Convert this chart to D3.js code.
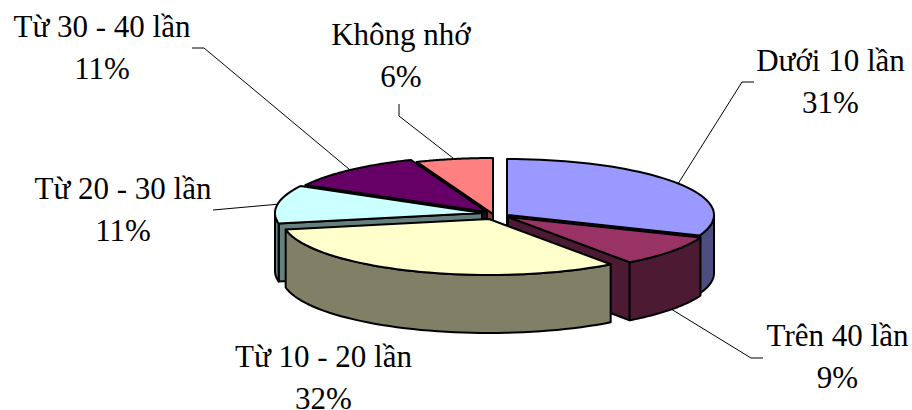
<!DOCTYPE html>
<html lang="vi">
<head>
<meta charset="utf-8">
<title>Số lần</title>
<script src="https://cdn.jsdelivr.net/npm/d3@7/dist/d3.min.js"></script>
<style>
  html, body { margin: 0; padding: 0; background: #fff; }
  svg { display: block; }
  text { font-family: "Liberation Serif", "Times New Roman", serif; fill: #000; }
</style>
</head>
<body>
<svg id="chart" width="912" height="410"></svg>
<script>
// Clockwise from twelve o'clock
const categories = ["Dưới 10 lần", "Trên 40 lần", "Từ 10 - 20 lần", "Từ 20 - 30 lần", "Từ 30 - 40 lần", "Không nhớ"];
const shares = [31, 9, 32, 11, 11, 6];
const topColors = ["#9999ff", "#993366", "#ffffcc", "#ccffff", "#660066", "#ff8080"];
const sideColors = ["#4d4d80", "#4d1a33", "#808066", "#668080", "#330033", "#804040"];

// Exploded centre of every slice
const centres = [[507, 215], [508, 217], [489, 219], [482, 213], [487, 212], [493, 214]];
// Label anchor (centre, first baseline) and the elbow of each leader line
const labelPos = [[830.5, 71], [837.5, 346], [323.5, 367], [123, 199], [102, 37], [401, 45]];
const leaderPath = [
  [[754, 82], [742, 82]],
  [[763, 358], [751, 358]],
  null,
  [[213, 210]],
  [[192, 48], [204, 48]],
  [[399, 104], [399, 116]]
];
// Painter's order, back to front
const drawOrder = [5, 4, 3, 0, 1, 2];

const RX = 207, RY = 56, DEPTH = 58;
const FONT = 31, LINE = 42;

const svg = d3.select("#chart");
const slices = d3.pie().sort(null).value(d => d)(shares);

const rim = (i, a) => [
  centres[i][0] + RX * Math.sin(a),
  centres[i][1] - RY * Math.cos(a)
];
const drop = p => [p[0], p[1] + DEPTH];
const arcPoints = (i, a0, a1) =>
  d3.range(0, 49).map(k => rim(i, a0 + (a1 - a0) * k / 48));
const line = d3.line();

const faceStyle = sel => sel
  .attr("stroke", "#000")
  .attr("stroke-width", 2)
  .attr("stroke-linejoin", "round");

const pieLayer = svg.append("g");

drawOrder.forEach(i => {
  const { startAngle: a0, endAngle: a1 } = slices[i];
  const g = pieLayer.append("g");
  const apex = centres[i];

  // Straight cut walls that face the viewer
  if (Math.sin(a0) < -1e-6) {
    const p = rim(i, a0);
    faceStyle(g.append("path"))
      .attr("d", line([apex, p, drop(p), drop(apex)]) + "Z")
      .attr("fill", sideColors[i]);
  }
  if (Math.sin(a1) > 1e-6) {
    const p = rim(i, a1);
    faceStyle(g.append("path"))
      .attr("d", line([apex, p, drop(p), drop(apex)]) + "Z")
      .attr("fill", sideColors[i]);
  }

  // Curved outer wall on the near half of the ellipse
  const w0 = Math.max(a0, Math.PI / 2), w1 = Math.min(a1, 3 * Math.PI / 2);
  if (w1 > w0) {
    const upper = arcPoints(i, w0, w1);
    const lower = upper.map(drop).reverse();
    faceStyle(g.append("path"))
      .attr("d", line(upper.concat(lower)) + "Z")
      .attr("fill", sideColors[i]);
  }

  // Top face
  faceStyle(g.append("path"))
    .attr("d", line([apex].concat(arcPoints(i, a0, a1))) + "Z")
    .attr("fill", topColors[i]);
});

// Leader lines run from the label elbow to the middle of the slice's rim
const leaderLayer = svg.append("g");
leaderPath.forEach((pts, i) => {
  if (!pts) return;
  const mid = (slices[i].startAngle + slices[i].endAngle) / 2;
  let end = rim(i, mid);
  if (Math.cos(mid) < 0) end = drop(end);
  leaderLayer.append("path")
    .attr("d", line(pts.concat([end])))
    .attr("fill", "none")
    .attr("stroke", "#000")
    .attr("stroke-width", 1);
});

// Two-line labels: category, then share
const labels = svg.append("g").attr("text-anchor", "middle").attr("font-size", FONT);
categories.forEach((name, i) => {
  const [x, y] = labelPos[i];
  labels.append("text").attr("x", x).attr("y", y).text(name);
  labels.append("text").attr("x", x).attr("y", y + LINE).text(shares[i] + "%");
});
</script>
</body>
</html>
